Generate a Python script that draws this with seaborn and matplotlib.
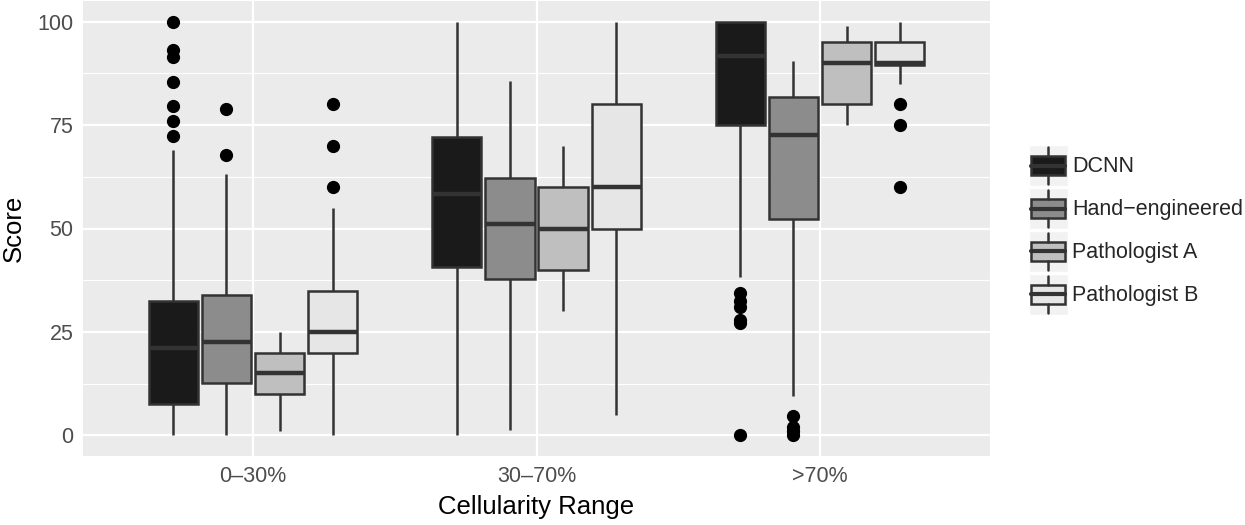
import numpy as np
import pandas as pd
import seaborn as sns
import matplotlib
matplotlib.use("Agg")
import matplotlib.pyplot as plt
from matplotlib.patches import Rectangle, Patch
from matplotlib.lines import Line2D
from matplotlib.legend_handler import HandlerBase

# ---------------- data ----------------
categories = ["0\u201330%", "30\u201370%", ">70%"]
methods = ["DCNN", "Hand\u2212engineered", "Pathologist A", "Pathologist B"]
colors = ["#1A1A1A", "#8C8C8C", "#BFBFBF", "#E6E6E6"]

# rows = methods, columns = categories
whisker_low = [[0, 0, 38.2], [0, 1.3, 9.6], [1, 30, 75], [0, 5, 85]]
q1 = [[7.6, 40.8, 75], [12.7, 37.7, 52.3], [10, 40, 80], [20, 50, 89.5]]
median = [[21.0, 58.4, 91.8], [22.5, 51.0, 72.7], [15, 50, 90], [25, 60, 90]]
q3 = [[32.4, 72.1, 100], [33.9, 62.2, 81.7], [20, 60, 95], [35, 80, 95]]
whisker_high = [[68.9, 100, 100], [63.2, 85.7, 90.6], [25, 70, 99], [55, 100, 100]]
outliers = [
    [[72.3, 75.9, 79.5, 85.3, 91.4, 93.2, 100], [], [0, 27.1, 27.9, 31.1, 32.4, 34.5]],
    [[67.8, 79.0], [], [0, 1.0, 2.1, 4.7]],
    [[], [], []],
    [[60, 70, 80], [], [60, 75, 80]],
]

# Build a long table whose quartiles / whiskers reproduce the stats above
rows = []
for mi, m in enumerate(methods):
    for ci, c in enumerate(categories):
        vals = ([whisker_low[mi][ci]] + [q1[mi][ci]] * 20 + [median[mi][ci]] * 20
                + [q3[mi][ci]] * 20 + [whisker_high[mi][ci]] + outliers[mi][ci])
        rows += [(c, m, v) for v in vals]
df = pd.DataFrame(rows, columns=["Cellularity Range", "Method", "Score"])

# ---------------- figure ----------------
sns.set_theme(style="white")
plt.rcParams["font.family"] = ["Liberation Sans", "DejaVu Sans"]

fig = plt.figure(figsize=(12.45, 5.25), dpi=100)
ax = fig.add_axes([83 / 1245, 69 / 525, 907 / 1245, 455 / 525])

edge = "#333333"
sns.boxplot(
    data=df, x="Cellularity Range", y="Score", hue="Method",
    order=categories, hue_order=methods, palette=colors,
    width=0.75, gap=0.07, linecolor=edge, linewidth=1.8, showcaps=False,
    flierprops=dict(marker="o", markerfacecolor="black", markeredgecolor="black",
                    markersize=8.5),
    medianprops=dict(linewidth=3.2, color=edge),
    legend=False, ax=ax,
)

ax.set_facecolor("#EBEBEB")
for s in ax.spines.values():
    s.set_visible(False)
ax.set_xlim(-0.6, 2.6)
ax.set_ylim(-5, 105)
ax.set_yticks([0, 25, 50, 75, 100])
ax.set_yticks([12.5, 37.5, 62.5, 87.5], minor=True)
ax.set_axisbelow(True)
ax.grid(True, which="major", color="white", linewidth=1.6)
ax.yaxis.grid(True, which="minor", color="white", linewidth=0.8)
ax.xaxis.grid(True, which="major", color="white", linewidth=1.6)

ax.tick_params(axis="both", which="major", length=4, width=1.1, color=edge,
               labelcolor="#4D4D4D", labelsize=15.5, pad=3)
ax.tick_params(axis="y", which="minor", length=0)
ax.set_xlabel("Cellularity Range", fontsize=18.5, color="black", labelpad=6)
ax.set_ylabel("Score", fontsize=18.5, color="black", labelpad=8)


# ---------------- legend with mini boxplot keys ----------------
class BoxKey(HandlerBase):
    def create_artists(self, legend, orig, xdescent, ydescent, width, height,
                       fontsize, trans):
        fc = orig.get_facecolor()
        x0, y0 = -xdescent, -ydescent
        bg = Rectangle((x0, y0), width, height, facecolor="#F2F2F2",
                       edgecolor="white", lw=1, transform=trans)
        bx = Rectangle((x0 + 0.06 * width, y0 + 0.27 * height), 0.88 * width,
                       0.46 * height, facecolor=fc, edgecolor=edge, lw=1.8,
                       transform=trans)
        cx = x0 + width / 2
        w1 = Line2D([cx, cx], [y0 + 0.05 * height, y0 + 0.27 * height],
                    color=edge, lw=1.8, transform=trans)
        w2 = Line2D([cx, cx], [y0 + 0.73 * height, y0 + 0.95 * height],
                    color=edge, lw=1.8, transform=trans)
        md = Line2D([x0 + 0.06 * width, x0 + 0.94 * width],
                    [y0 + height / 2] * 2, color=edge, lw=3, transform=trans)
        return [bg, bx, w1, w2, md]


handles = [Patch(facecolor=c, edgecolor=edge) for c in colors]
fig.legend(handles, methods, handler_map={Patch: BoxKey()},
           loc="center left", bbox_to_anchor=(1029 / 1245, 1 - 230 / 525),
           frameon=False, fontsize=15.5, handlelength=1.8, handleheight=2.56,
           labelspacing=0.08, handletextpad=0.2, borderpad=0, borderaxespad=0)

fig.savefig("out.png", dpi=100)
